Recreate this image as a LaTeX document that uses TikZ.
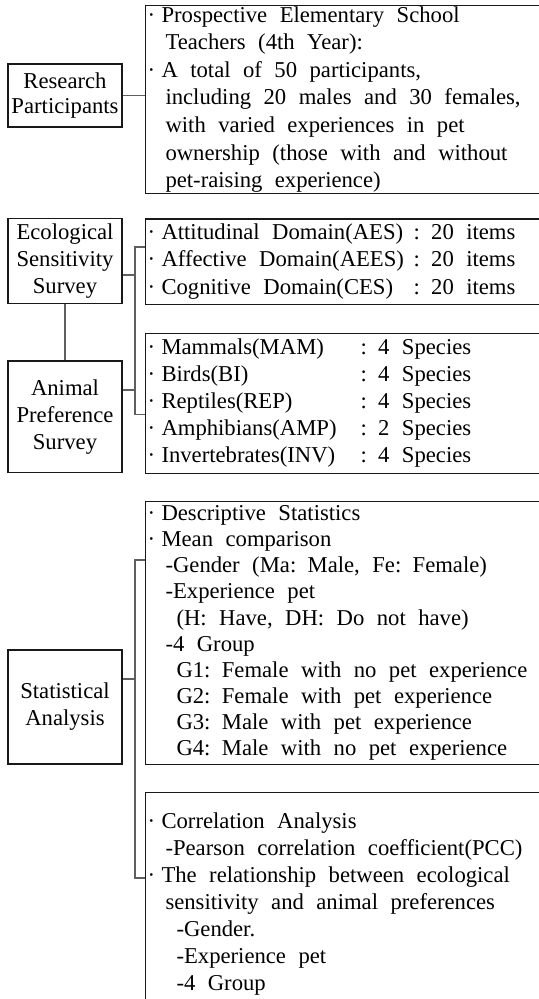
\documentclass[tikz,border=0pt]{standalone}
\usepackage{fontspec}
\setmainfont{Liberation Serif}
\usepackage{xcolor}
\definecolor{frame-dark}{RGB}{25,25,25}
\definecolor{link-gray}{RGB}{95,95,95}
\usetikzlibrary{positioning}
\newcommand{\bul}{\makebox[0.28cm][l]{·}}
\newcommand{\inA}{\hspace*{0.36cm}}
\newcommand{\inB}{\hspace*{0.58cm}}
\newcommand{\boxfont}[1]{\fontsize{12.9}{#1}\selectfont}

\begin{document}
\begin{tikzpicture}[
    every node/.append style={font=\boxfont{15.4}},
    label box/.style={draw=frame-dark, line width=0.6pt, minimum width=2.28cm, minimum height=#1, inner sep=0pt, align=center},
    info box/.style={draw=frame-dark, line width=0.6pt, anchor=north west, text width=8.52cm, minimum height=#1, inner xsep=0.04cm, inner ysep=0pt, align=left,
        execute at begin node={\spaceskip=0.55em plus 0.1em\relax}},
    link/.style={draw=link-gray, line width=0.6pt}
]
\useasboundingbox (0,0) rectangle (10.76,-19.98);

% Participants
\node[info box=3.76cm, font=\boxfont{15.7}] (part) at (2.90,-0.10) {%
\bul Prospective Elementary School\\
\inA Teachers (4th Year):\\
\bul A total of 50 participants,\\
\inA including 20 males and 30 females,\\
\inA with varied experiences in pet\\
\inA ownership (those with and without\\
\inA pet-raising experience)};
\node[label box=1.26cm] (rp) at (1.30,-1.91) {Research\\[-1.5pt]Participants};
\draw[link] (rp.east) -- (rp.east -| part.west);

% Surveys
\node[info box=1.70cm] (aes) at (2.90,-4.37) {%
\makebox[5.32cm][l]{\bul Attitudinal Domain(AES)}: 20 items\\
\makebox[5.32cm][l]{\bul Affective Domain(AEES)}: 20 items\\
\makebox[5.32cm][l]{\bul Cognitive Domain(CES)}: 20 items};
\node[info box=2.79cm] (species) at (2.90,-6.66) {%
\makebox[4.26cm][l]{\bul Mammals(MAM)}: 4 Species\\
\makebox[4.26cm][l]{\bul Birds(BI)}: 4 Species\\
\makebox[4.26cm][l]{\bul Reptiles(REP)}: 4 Species\\
\makebox[4.26cm][l]{\bul Amphibians(AMP)}: 2 Species\\
\makebox[4.26cm][l]{\bul Invertebrates(INV)}: 4 Species};
\node[label box=1.70cm] (eco) at (1.30,-5.22) {Ecological\\Sensitivity\\Survey};
\node[label box=2.23cm] (animal) at (1.30,-8.335) {Animal\\Preference\\Survey};
\draw[link] (eco.south) -- (animal.north);
\draw[link] ([yshift=-0.57cm]aes.north west) -- ++(-0.2,0) |- ([yshift=-1.63cm]species.north west);
\draw[link] ([yshift=-0.28cm]eco.east) -- ++(0.26,0);
\draw[link] ([yshift=0.535cm]animal.east) -- ++(0.26,0);

% Analysis
\node[info box=5.26cm, font=\boxfont{14.9}] (desc) at (2.90,-10.02) {%
\bul Descriptive Statistics\\
\bul Mean comparison\\
\inA -Gender (Ma: Male, Fe: Female)\\
\inA -Experience pet\\
\inB (H: Have, DH: Do not have)\\
\inA -4 Group\\
\inB G1: Female with no pet experience\\
\inB G2: Female with pet experience\\
\inB G3: Male with pet experience\\
\inB G4: Male with no pet experience};
\node[info box=4.46cm] (corr) at (2.90,-15.84) {%
\bul Correlation Analysis\\
\inA -Pearson correlation coefficient(PCC)\\
\bul The relationship between ecological\\
\inA sensitivity and animal preferences\\
\inB -Gender.\\
\inB -Experience pet\\
\inB -4 Group};
\node[label box=2.28cm] (stat) at (1.30,-14.14) {Statistical\\Analysis};
\draw[link] ([yshift=-1.18cm]desc.north west) -- ++(-0.2,0) |- ([yshift=-1.72cm]corr.north west);
\draw[link] ([yshift=0.56cm]stat.east) -- ++(0.26,0);

\end{tikzpicture}
\end{document}
